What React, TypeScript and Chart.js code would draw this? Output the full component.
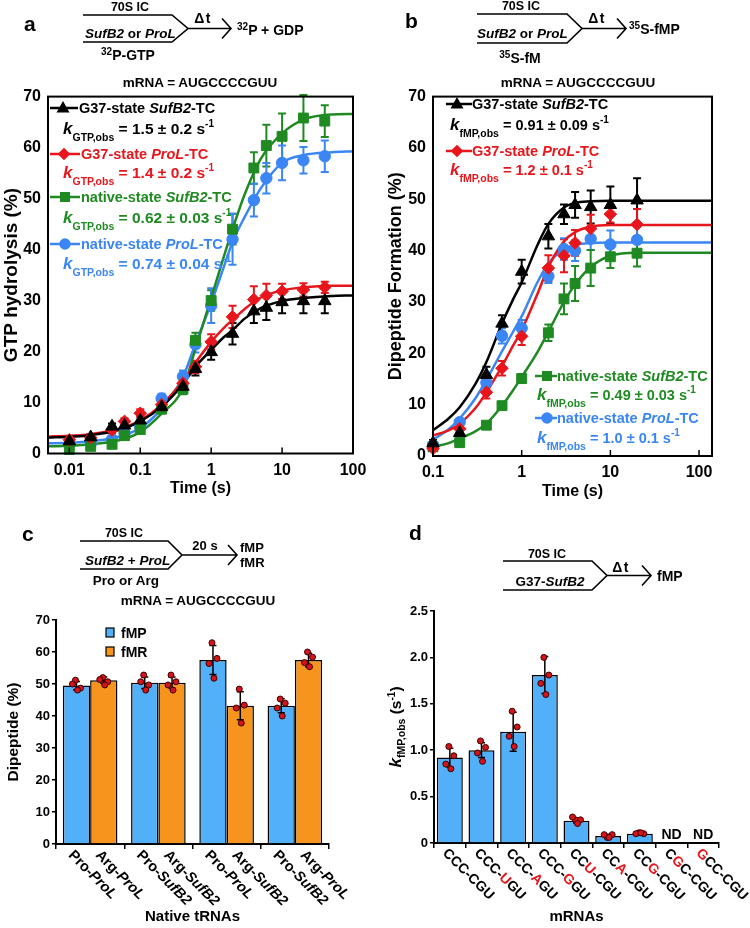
import React, { useEffect, useRef } from "react";
import { Chart, registerables } from "chart.js";
Chart.register(...registerables);

const FONT = "'Liberation Sans', Arial, Helvetica, sans-serif";
Chart.defaults.font.family = FONT;
Chart.defaults.color = "#000";

const BLACK = "#000000";
const RED = "#e8161c";
const GREEN = "#1f8a22";
const BLUE = "#3a86f4";
const BAR_BLUE = "#52b0f8";
const BAR_ORANGE = "#f7941d";
const DOT_RED = "#d4141a";

// ---------------- panel a : GTP hydrolysis ----------------
const aTimes = [0.01, 0.02, 0.04, 0.06, 0.1, 0.2, 0.4, 0.6, 1, 2, 4, 6, 10, 20, 40];
const aG37SufB2 = [2.4, 3.2, 5.3, 5.5, 6.5, 9.1, 13.1, 16.6, 19.9, 23.5, 27.9, 28.6, 29.7, 29.9, 29.9];
const aG37ProL = [2.7, 3.1, 4.6, 6.3, 7.9, 9.6, 13.8, 17.0, 21.9, 26.8, 30.2, 31.0, 31.8, 32.1, 32.6];
const aNatSufB2 = [0.8, 1.4, 1.8, 3.5, 4.7, 8.7, 12.6, 22.2, 30.0, 44.0, 56.0, 60.4, 62.2, 65.8, 65.2];
const aNatProL = [1.8, 1.9, 2.8, 4.0, 5.2, 10.8, 15.1, 21.4, 29.0, 42.0, 49.7, 54.0, 57.0, 57.5, 58.3];
const aErrG37SufB2 = [0.5, 0.6, 0.6, 0.8, 0.9, 1.0, 1.2, 1.3, 1.5, 2.1, 2.3, 2.4, 2.2, 2.4, 2.4];
const aErrG37ProL = [0.4, 0.5, 0.6, 0.6, 0.8, 0.9, 1.0, 1.2, 1.5, 2.2, 2.6, 2.3, 1.5, 1.3, 1.1];
const aErrNatSufB2 = [0.4, 0.4, 0.5, 0.6, 0.7, 0.8, 1.0, 1.5, 2.0, 3.0, 3.1, 4.1, 4.5, 4.5, 3.1];
const aErrNatProL = [0.4, 0.4, 0.5, 0.6, 0.7, 0.9, 1.2, 1.6, 3.4, 5.0, 3.2, 3.0, 3.4, 2.6, 3.1];
const aFitTimes = [0.005, 0.01, 0.02, 0.05, 0.1, 0.2, 0.4, 0.6, 1, 1.5, 2, 3, 5, 10, 20, 50, 100];
const aFitG37SufB2 = [3.1, 3.3, 3.6, 4.6, 6.3, 9.2, 13.6, 17.0, 20.3, 22.8, 24.2, 26.5, 28.5, 29.9, 30.5, 30.9, 31.0];
const aFitG37ProL = [3.3, 3.5, 3.8, 4.8, 6.5, 9.6, 14.2, 17.8, 21.9, 24.6, 26.2, 28.4, 30.6, 32.0, 32.6, 32.9, 32.9];
const aFitNatSufB2 = [1.4, 1.5, 1.8, 2.6, 4.2, 7.8, 12.8, 20.5, 30.5, 38.5, 44.0, 51.0, 57.8, 62.8, 65.5, 66.5, 66.6];
const aFitNatProL = [2.0, 2.1, 2.4, 3.3, 5.0, 8.8, 15.0, 21.5, 29.5, 36.5, 41.5, 46.5, 52.0, 57.0, 58.5, 59.1, 59.3];
const aTickValues = [0.01, 0.1, 1, 10, 100];

// ---------------- panel b : dipeptide formation ----------------
const bTimes = [0.1, 0.2, 0.4, 0.6, 1, 2, 3, 4, 6, 10, 20];
const bG37SufB2 = [2.5, 4.5, 15.8, 25.8, 35.9, 42.8, 47.1, 48.9, 48.5, 48.9, 49.8];
const bG37ProL = [1.5, 5.3, 12.4, 17.1, 23.3, 36.6, 39.0, 41.5, 44.3, 47.1, 45.1];
const bNatSufB2 = [1.8, 2.6, 6.0, 9.8, 15.1, 24.0, 30.6, 33.6, 36.6, 38.8, 39.5];
const bNatProL = [2.1, 6.6, 14.3, 23.4, 24.9, 35.0, 40.3, 40.0, 42.3, 41.2, 42.1];
const bErrG37SufB2 = [0.6, 0.8, 1.6, 1.6, 2.3, 2.4, 1.9, 2.5, 3.2, 3.6, 4.3];
const bErrG37ProL = [0.5, 0.8, 1.2, 1.4, 1.7, 2.5, 3.2, 2.5, 2.7, 1.6, 3.0];
const bErrNatSufB2 = [0.4, 0.5, 0.6, 0.7, 0.8, 1.6, 3.0, 3.4, 3.5, 2.2, 2.6];
const bErrNatProL = [0.5, 0.7, 1.0, 1.5, 1.6, 1.3, 2.1, 2.0, 2.2, 2.7, 2.6];
const bFitTimes = [0.1, 0.15, 0.2, 0.3, 0.4, 0.6, 0.8, 1, 1.5, 2, 3, 4, 6, 10, 20, 50, 140];
const bFitG37SufB2 = [5.0, 7.3, 9.5, 14.0, 18.3, 25.8, 30.5, 33.8, 41.0, 45.2, 48.4, 49.3, 49.6, 49.7, 49.7, 49.7, 49.7];
const bFitG37ProL = [4.0, 5.0, 6.3, 9.3, 12.4, 17.5, 21.5, 24.5, 31.5, 36.8, 41.8, 43.6, 44.7, 45.0, 45.0, 45.0, 45.0];
const bFitNatSufB2 = [1.8, 2.5, 3.4, 4.8, 6.3, 9.8, 12.8, 15.4, 20.2, 24.2, 30.0, 33.4, 36.8, 39.0, 39.6, 39.6, 39.6];
const bFitNatProL = [3.2, 5.2, 7.3, 11.2, 14.8, 20.4, 24.2, 27.2, 33.8, 37.5, 40.3, 41.1, 41.5, 41.6, 41.6, 41.6, 41.6];
const bTickValues = [0.1, 1, 10, 100];

// ---------------- panel c : competition ----------------
const cCategories = ["Pro-ProL / Arg-ProL", "Pro-SufB2 / Arg-SufB2", "Pro-ProL / Arg-SufB2", "Pro-SufB2 / Arg-ProL"];
const cFmpLabels = ["Pro-ProL", "Pro-SufB2", "Pro-ProL", "Pro-SufB2"];
const cFmrLabels = ["Arg-ProL", "Arg-SufB2", "Arg-SufB2", "Arg-ProL"];
const cFmp = [49.5, 50.4, 57.5, 43.2];
const cFmr = [51.2, 50.4, 43.2, 57.5];
const cFmpSd = [1.3, 1.8, 4.5, 2.2];
const cFmrSd = [1.0, 1.8, 4.4, 2.1];
const cFmpPts = [[51.2, 48.7, 50.0, 48.1], [52.8, 49.7, 50.7, 48.1], [62.9, 58.0, 56.4, 51.8], [45.3, 44.0, 42.5, 40.0]];
const cFmrPts = [[52.0, 50.7, 51.4, 49.7], [52.8, 50.7, 49.7, 48.1], [48.4, 43.4, 42.5, 37.8], [60.0, 58.4, 56.7, 55.4]];

// ---------------- panel d : mRNA variants ----------------
const dLabels = ["CCC-CGU", "CCC-UGU", "CCC-AGU", "CCC-GGU", "CCU-CGU", "CCA-CGU", "CCG-CGU", "CGC-CGU", "GCC-CGU"];
const dMutIndex = [-1, 4, 4, 4, 2, 2, 2, 1, 0];
const dValues = [0.92, 1.0, 1.2, 1.81, 0.24, 0.075, 0.1, null, null];
const dSd = [0.1, 0.08, 0.21, 0.2, 0.025, 0.02, 0.008, 0, 0];
const dPts = [[1.04, 0.94, 0.85, 0.8], [1.1, 1.03, 0.97, 0.88], [1.42, 1.25, 1.15, 1.04], [2.0, 1.81, 1.72, 1.6], [0.25, 0.25, 0.28, 0.21], [0.06, 0.09, 0.09, 0.06], [0.11, 0.1, 0.1, 0.11], [], []];

const JITTER = [-1, 4, -4, 1];

// ---------------- plugins ----------------
const errorBarPlugin = {
  id: "errorBars",
  beforeDatasetsDraw(chart: any) {
    const ctx = chart.ctx;
    const ys = chart.scales.y;
    chart.data.datasets.forEach((ds: any, i: number) => {
      if (!ds.errors) return;
      const meta = chart.getDatasetMeta(i);
      ctx.save();
      ctx.strokeStyle = ds.borderColor;
      ctx.lineWidth = 2;
      meta.data.forEach((pt: any, j: number) => {
        const v = ds.data[j].y;
        const e = ds.errors[j];
        const y1 = ys.getPixelForValue(v + e);
        const y2 = ys.getPixelForValue(v - e);
        ctx.beginPath();
        ctx.moveTo(pt.x, y1);
        ctx.lineTo(pt.x, y2);
        ctx.moveTo(pt.x - 4, y1);
        ctx.lineTo(pt.x + 4, y1);
        ctx.moveTo(pt.x - 4, y2);
        ctx.lineTo(pt.x + 4, y2);
        ctx.stroke();
      });
      ctx.restore();
    });
  },
};

const framePlugin = {
  id: "frame",
  afterDatasetsDraw(chart: any) {
    const { ctx, chartArea } = chart;
    const { left, top, right, bottom } = chartArea;
    ctx.save();
    ctx.strokeStyle = "#000";
    ctx.lineWidth = 2;
    ctx.strokeRect(left, top, right - left, bottom - top);
    const xs = chart.scales.x;
    ctx.lineWidth = 1.5;
    xs.ticks.forEach((t: any) => {
      const px = xs.getPixelForValue(t.value);
      ctx.beginPath();
      ctx.moveTo(px, bottom);
      ctx.lineTo(px, bottom - 6);
      ctx.stroke();
    });
    ctx.restore();
  },
};

const barDecorPlugin = {
  id: "barDecor",
  afterDatasetsDraw(chart: any) {
    const ctx = chart.ctx;
    const ys = chart.scales.y;
    chart.data.datasets.forEach((ds: any, i: number) => {
      const meta = chart.getDatasetMeta(i);
      meta.data.forEach((bar: any, j: number) => {
        const v = ds.data[j];
        if (v == null) return;
        const sd = ds.sd[j];
        const x = bar.x;
        const y1 = ys.getPixelForValue(v + sd);
        const y2 = ys.getPixelForValue(v - sd);
        ctx.save();
        ctx.strokeStyle = "#000";
        ctx.lineWidth = 1.5;
        ctx.beginPath();
        ctx.moveTo(x, y1);
        ctx.lineTo(x, y2);
        ctx.moveTo(x - 3.5, y1);
        ctx.lineTo(x + 3.5, y1);
        ctx.moveTo(x - 3.5, y2);
        ctx.lineTo(x + 3.5, y2);
        ctx.stroke();
        (ds.pts[j] || []).forEach((p: number, k: number) => {
          ctx.beginPath();
          ctx.arc(x + JITTER[k % JITTER.length], ys.getPixelForValue(p), 3, 0, Math.PI * 2);
          ctx.fillStyle = DOT_RED;
          ctx.fill();
          ctx.lineWidth = 1;
          ctx.strokeStyle = "#3a0000";
          ctx.stroke();
        });
        ctx.restore();
      });
    });
  },
};

// rotated (clockwise 45 deg) labels under each bar, drawn char by char
function drawRotLabel(ctx: any, text: string, x: number, y: number, styleFor: (i: number) => { italic: boolean; color: string }, size: number, weight: string) {
  ctx.save();
  ctx.translate(x, y);
  ctx.rotate(Math.PI / 4);
  ctx.textBaseline = "middle";
  ctx.textAlign = "left";
  let cx = 0;
  for (let i = 0; i < text.length; i++) {
    const st = styleFor(i);
    ctx.font = `${st.italic ? "italic " : ""}${weight} ${size}px ${FONT}`;
    ctx.fillStyle = st.color;
    ctx.fillText(text[i], cx, 0);
    cx += ctx.measureText(text[i]).width;
  }
  ctx.restore();
}

const cLabelPlugin = {
  id: "cLabels",
  afterDraw(chart: any) {
    const ctx = chart.ctx;
    const bottom = chart.chartArea.bottom;
    chart.data.datasets.forEach((ds: any, i: number) => {
      const meta = chart.getDatasetMeta(i);
      meta.data.forEach((bar: any, j: number) => {
        const txt: string = ds.tickText[j];
        const dash = txt.indexOf("-");
        drawRotLabel(ctx, txt, bar.x - 6, bottom + 9, (k) => ({ italic: k > dash, color: "#000" }), 14.5, "bold");
      });
    });
  },
};

const dLabelPlugin = {
  id: "dLabels",
  afterDraw(chart: any) {
    const ctx = chart.ctx;
    const bottom = chart.chartArea.bottom;
    const xs = chart.scales.x;
    dLabels.forEach((lab, j) => {
      const x = xs.getPixelForValue(j);
      drawRotLabel(ctx, lab, x - 5, bottom + 8, (k) => ({ italic: false, color: k === dMutIndex[j] ? RED : "#000" }), 14, "bold");
      if (dValues[j] == null) {
        ctx.save();
        ctx.font = `bold 14px ${FONT}`;
        ctx.textAlign = "center";
        ctx.textBaseline = "alphabetic";
        ctx.fillStyle = "#000";
        ctx.fillText("ND", x, bottom - 4);
        ctx.restore();
      }
    });
  },
};

// ---------------- helpers ----------------
const xy = (xs: number[], ys: number[]) => xs.map((x, i) => ({ x, y: ys[i] }));

function pointSet(label: string, xs: number[], ys: number[], errs: number[], color: string, style: string, radius: number) {
  return {
    label,
    data: xy(xs, ys),
    showLine: false,
    pointStyle: style,
    pointRadius: radius,
    backgroundColor: color,
    borderColor: color,
    borderWidth: 1,
    errors: errs,
    clip: false,
  };
}
function curveSet(label: string, xs: number[], ys: number[], color: string) {
  return {
    label,
    data: xy(xs, ys),
    showLine: true,
    pointRadius: 0,
    borderColor: color,
    backgroundColor: color,
    borderWidth: 2.5,
    cubicInterpolationMode: "monotone",
    fill: false,
  };
}

function kineticsConfig(opts: any) {
  return {
    type: "scatter",
    data: { datasets: opts.datasets },
    options: {
      responsive: false,
      animation: false,
      devicePixelRatio: 1,
      layout: { padding: opts.padding },
      plugins: { legend: { display: false }, tooltip: { enabled: false } },
      scales: {
        x: {
          type: "logarithmic",
          min: opts.xmin,
          max: opts.xmax,
          afterBuildTicks: (s: any) => {
            s.ticks = opts.ticks.map((v: number) => ({ value: v }));
          },
          afterFit: (s: any) => {
            s.height = 45;
          },
          ticks: { font: { size: 16, weight: "bold" }, padding: 7, maxRotation: 0, autoSkip: false, callback: (v: any) => String(v) },
          grid: { display: false, drawTicks: false },
          border: { display: false },
          title: { display: true, text: "Time (s)", font: { size: 16, weight: "bold" }, padding: 0 },
        },
        y: {
          min: 0,
          max: 70,
          ticks: { stepSize: 10, font: { size: 16, weight: "bold" }, padding: 7 },
          afterFit: (s: any) => {
            s.width = 48;
          },
          grid: { display: false, drawTicks: false },
          border: { display: false },
          title: { display: true, text: opts.ytitle, font: { size: opts.ytitleSize, weight: "bold" }, padding: 0 },
        },
      },
    },
    plugins: [errorBarPlugin, framePlugin],
  };
}

function ChartCanvas({ left, top, width, height, make }: { left: number; top: number; width: number; height: number; make: () => any }) {
  const ref = useRef<HTMLCanvasElement>(null);
  useEffect(() => {
    const chart = new Chart(ref.current as HTMLCanvasElement, make());
    return () => chart.destroy();
  }, []);
  return <canvas ref={ref} width={width} height={height} style={{ position: "absolute", left, top, width, height }} />;
}

const makeA = () =>
  kineticsConfig({
    datasets: [
      pointSet("G37-state SufB2-TC", aTimes, aG37SufB2, aErrG37SufB2, BLACK, "triangle", 7.2),
      pointSet("G37-state ProL-TC", aTimes, aG37ProL, aErrG37ProL, RED, "rectRot", 6.3),
      pointSet("native-state SufB2-TC", aTimes, aNatSufB2, aErrNatSufB2, GREEN, "rect", 7),
      pointSet("native-state ProL-TC", aTimes, aNatProL, aErrNatProL, BLUE, "circle", 5.7),
      curveSet("fit G37 SufB2", aFitTimes, aFitG37SufB2, BLACK),
      curveSet("fit G37 ProL", aFitTimes, aFitG37ProL, RED),
      curveSet("fit native SufB2", aFitTimes, aFitNatSufB2, GREEN),
      curveSet("fit native ProL", aFitTimes, aFitNatProL, BLUE),
    ],
    padding: { left: 0, top: 15, right: 22, bottom: 11.5 },
    xmin: 0.005,
    xmax: 100,
    ticks: aTickValues,
    ytitle: "GTP hydrolysis (%)",
    ytitleSize: 19,
  });

const makeB = () =>
  kineticsConfig({
    datasets: [
      pointSet("G37-state SufB2-TC", bTimes, bG37SufB2, bErrG37SufB2, BLACK, "triangle", 7.2),
      pointSet("G37-state ProL-TC", bTimes, bG37ProL, bErrG37ProL, RED, "rectRot", 6.3),
      pointSet("native-state ProL-TC", bTimes, bNatProL, bErrNatProL, BLUE, "circle", 5.7),
      pointSet("native-state SufB2-TC", bTimes, bNatSufB2, bErrNatSufB2, GREEN, "rect", 7),
      curveSet("fit G37 SufB2", bFitTimes, bFitG37SufB2, BLACK),
      curveSet("fit G37 ProL", bFitTimes, bFitG37ProL, RED),
      curveSet("fit native ProL", bFitTimes, bFitNatProL, BLUE),
      curveSet("fit native SufB2", bFitTimes, bFitNatSufB2, GREEN),
    ],
    padding: { left: 0, top: 12, right: 38, bottom: 9 },
    xmin: 0.1,
    xmax: 140,
    ticks: bTickValues,
    ytitle: "Dipeptide Formation (%)",
    ytitleSize: 18,
  });

const makeC = () => ({
  type: "bar",
  data: {
    labels: cCategories,
    datasets: [
      { label: "fMP", data: cFmp, backgroundColor: BAR_BLUE, borderColor: "#000", borderWidth: 1.5, sd: cFmpSd, pts: cFmpPts, tickText: cFmpLabels },
      { label: "fMR", data: cFmr, backgroundColor: BAR_ORANGE, borderColor: "#000", borderWidth: 1.5, sd: cFmrSd, pts: cFmrPts, tickText: cFmrLabels },
    ],
  },
  options: {
    responsive: false,
    animation: false,
    devicePixelRatio: 1,
    layout: { padding: { left: 0, top: 10, right: 46, bottom: 2 } },
    datasets: { bar: { categoryPercentage: 0.8, barPercentage: 1 } },
    plugins: { legend: { display: false }, tooltip: { enabled: false } },
    scales: {
      x: {
        ticks: { display: false },
        afterFit: (s: any) => {
          s.height = 82;
        },
        grid: { drawOnChartArea: false, drawTicks: true, tickLength: 5, color: "#000", lineWidth: 1.5, offset: true },
        border: { display: true, color: "#000", width: 2 },
        title: { display: true, text: "Native tRNAs", font: { size: 15, weight: "bold" }, padding: 0 },
      },
      y: {
        min: 0,
        max: 70,
        ticks: { stepSize: 10, font: { size: 13, weight: "bold" }, padding: 2 },
        afterFit: (s: any) => {
          s.width = 56;
        },
        grid: { drawOnChartArea: false, tickLength: 4, color: "#000", lineWidth: 1.5 },
        border: { display: true, color: "#000", width: 2 },
        title: { display: true, text: "Dipeptide (%)", font: { size: 15.5, weight: "bold" }, padding: { top: 4, bottom: 0 } },
      },
    },
  },
  plugins: [barDecorPlugin, cLabelPlugin],
});

const makeD = () => ({
  type: "bar",
  data: {
    labels: dLabels,
    datasets: [{ label: "kfMP,obs", data: dValues, backgroundColor: BAR_BLUE, borderColor: "#000", borderWidth: 1.5, sd: dSd, pts: dPts }],
  },
  options: {
    responsive: false,
    animation: false,
    devicePixelRatio: 1,
    layout: { padding: { left: 0, top: 11, right: 31, bottom: 2 } },
    datasets: { bar: { categoryPercentage: 0.82, barPercentage: 1 } },
    plugins: { legend: { display: false }, tooltip: { enabled: false } },
    scales: {
      x: {
        ticks: { display: false },
        afterFit: (s: any) => {
          s.height = 83;
        },
        grid: { drawOnChartArea: false, drawTicks: true, tickLength: 5, color: "#000", lineWidth: 1.5, offset: true },
        border: { display: true, color: "#000", width: 2 },
        title: { display: true, text: "mRNAs", font: { size: 15, weight: "bold" }, padding: 0 },
      },
      y: {
        min: 0,
        max: 2.5,
        ticks: { stepSize: 0.5, font: { size: 13, weight: "bold" }, padding: 2 },
        afterFit: (s: any) => {
          s.width = 54;
        },
        grid: { drawOnChartArea: false, tickLength: 4, color: "#000", lineWidth: 1.5 },
        border: { display: true, color: "#000", width: 2 },
      },
    },
  },
  plugins: [barDecorPlugin, dLabelPlugin],
});

// ---------------- SVG annotations ----------------
function Marker({ kind, x, y, color }: { kind: string; x: number; y: number; color: string }) {
  if (kind === "triangle") return <polygon points={`${x},${y - 7} ${x + 6.5},${y + 4.5} ${x - 6.5},${y + 4.5}`} fill={color} />;
  if (kind === "diamond") return <polygon points={`${x},${y - 6.3} ${x + 6.3},${y} ${x},${y + 6.3} ${x - 6.3},${y}`} fill={color} />;
  if (kind === "square") return <rect x={x - 5} y={y - 5} width={10} height={10} fill={color} />;
  return <circle cx={x} cy={y} r={5.7} fill={color} />;
}

function LegendRow({ x1, x2, mx, tx, y, color, kind, pre, ital, post, size }: any) {
  return (
    <g>
      <line x1={x1} y1={y} x2={x2} y2={y} stroke={color} strokeWidth={2.5} />
      <Marker kind={kind} x={mx} y={y} color={color} />
      <text x={tx} y={y + 5} fill={color} fontSize={size} fontWeight="bold">
        {pre}
        <tspan fontStyle="italic">{ital}</tspan>
        {post}
      </text>
    </g>
  );
}

function KRow({ x, y, color, sub, val, size }: any) {
  return (
    <text x={x} y={y} fill={color} fontSize={size} fontWeight="bold">
      <tspan fontStyle="italic" fontSize={17}>k</tspan>
      <tspan fontSize={10.5} dy={7}>{sub}</tspan>
      <tspan dy={-7}>{` = ${val} s`}</tspan>
      <tspan fontSize={10} dy={-7}>-1</tspan>
    </text>
  );
}

function Scheme({ x0, x1, xt, y0, y1, xa }: any) {
  const ym = (y0 + y1) / 2;
  return (
    <path
      d={`M${x0},${y0} L${x1},${y0} L${xt},${ym} L${x1},${y1} L${x0},${y1} M${xt},${ym} L${xa},${ym} M${xa - 9},${ym - 10} L${xa},${ym} L${xa - 9},${ym + 10}`}
      fill="none"
      stroke="#000"
      strokeWidth={1.6}
    />
  );
}

function Overlay() {
  return (
    <svg width={750} height={928} style={{ position: "absolute", left: 0, top: 0, pointerEvents: "none" }} fontFamily={FONT} fontWeight="bold">
      {/* panel letters */}
      <text x={24} y={31} fontSize={21}>a</text>
      <text x={405} y={28} fontSize={21}>b</text>
      <text x={22} y={541} fontSize={21}>c</text>
      <text x={409} y={540} fontSize={21}>d</text>

      {/* scheme a */}
      <Scheme x0={83} x1={172} xt={188} y0={15} y1={42} xa={231} />
      <text x={130} y={11} fontSize={12.5} textAnchor="middle">70S IC</text>
      <text x={85} y={38} fontSize={13.5}>
        <tspan fontStyle="italic">SufB2</tspan> or <tspan fontStyle="italic">ProL</tspan>
      </text>
      <text x={203} y={23} fontSize={14} textAnchor="middle" letterSpacing={1.5}>Δt</text>
      <text x={237} y={35} fontSize={14}>
        <tspan fontSize={10} dy={-5}>32</tspan>
        <tspan dy={5}>P + GDP</tspan>
      </text>
      <text x={128} y={60} fontSize={14} textAnchor="middle">
        <tspan fontSize={10} dy={-5}>32</tspan>
        <tspan dy={5}>P-GTP</tspan>
      </text>
      <text x={200} y={87} fontSize={13.5} textAnchor="middle">mRNA = AUGCCCCGUU</text>

      {/* scheme b */}
      <Scheme x0={477} x1={567} xt={582} y0={14} y1={43} xa={626} />
      <text x={521} y={10} fontSize={12.5} textAnchor="middle">70S IC</text>
      <text x={477} y={38} fontSize={13.5}>
        <tspan fontStyle="italic">SufB2</tspan> or <tspan fontStyle="italic">ProL</tspan>
      </text>
      <text x={597} y={23} fontSize={14} textAnchor="middle" letterSpacing={1.5}>Δt</text>
      <text x={629} y={34} fontSize={14}>
        <tspan fontSize={10} dy={-5}>35</tspan>
        <tspan dy={5}>S-fMP</tspan>
      </text>
      <text x={520} y={63} fontSize={14} textAnchor="middle">
        <tspan fontSize={10} dy={-5}>35</tspan>
        <tspan dy={5}>S-fM</tspan>
      </text>
      <text x={578} y={87} fontSize={13.5} textAnchor="middle">mRNA = AUGCCCCGUU</text>

      {/* scheme c */}
      <Scheme x0={80} x1={168} xt={182} y0={541} y1={569} xa={237} />
      <text x={124} y={537} fontSize={12.5} textAnchor="middle">70S IC</text>
      <text x={85} y={565} fontSize={13.5}>
        <tspan fontStyle="italic">SufB2</tspan> + <tspan fontStyle="italic">ProL</tspan>
      </text>
      <text x={205} y={550} fontSize={13} textAnchor="middle">20 s</text>
      <text x={240} y={552} fontSize={13}>fMP</text>
      <text x={240} y={567} fontSize={13}>fMR</text>
      <text x={126} y={585} fontSize={13.5} textAnchor="middle">Pro or Arg</text>
      <text x={198} y={605} fontSize={13.5} textAnchor="middle">mRNA = AUGCCCCGUU</text>

      {/* scheme d */}
      <Scheme x0={503} x1={592} xt={607} y0={561} y1={590} xa={651} />
      <text x={547} y={558} fontSize={12.5} textAnchor="middle">70S IC</text>
      <text x={550} y={586} fontSize={13.5} textAnchor="middle">
        G37-<tspan fontStyle="italic">SufB2</tspan>
      </text>
      <text x={621} y={572} fontSize={14} textAnchor="middle" letterSpacing={1.5}>Δt</text>
      <text x={657} y={581} fontSize={14}>fMP</text>

      {/* legend a */}
      <LegendRow x1={50} x2={78} mx={63} tx={79} y={108} color={BLACK} kind="triangle" pre="G37-state " ital="SufB2" post="-TC" size={14.5} />
      <KRow x={63} y={134} color={BLACK} sub="GTP,obs" val="1.5 ± 0.2" size={15.5} />
      <LegendRow x1={50} x2={80} mx={64} tx={81} y={154} color={RED} kind="diamond" pre="G37-state " ital="ProL" post="-TC" size={14.5} />
      <KRow x={63} y={178} color={RED} sub="GTP,obs" val="1.4 ± 0.2" size={15.5} />
      <LegendRow x1={50} x2={80} mx={65} tx={81} y={197} color={GREEN} kind="square" pre="native-state " ital="SufB2" post="-TC" size={14.5} />
      <KRow x={63} y={223} color={GREEN} sub="GTP,obs" val="0.62 ± 0.03" size={15.5} />
      <LegendRow x1={50} x2={80} mx={65} tx={81} y={244} color={BLUE} kind="circle" pre="native-state " ital="ProL" post="-TC" size={14.5} />
      <KRow x={63} y={269} color={BLUE} sub="GTP,obs" val="0.74 ± 0.04" size={15.5} />

      {/* legend b */}
      <LegendRow x1={446} x2={472} mx={457} tx={472} y={104} color={BLACK} kind="triangle" pre="G37-state " ital="SufB2" post="-TC" size={14.5} />
      <KRow x={450} y={130} color={BLACK} sub="fMP,obs" val="0.91 ± 0.09" size={14.5} />
      <LegendRow x1={446} x2={472} mx={457} tx={472} y={151} color={RED} kind="diamond" pre="G37-state " ital="ProL" post="-TC" size={14.5} />
      <KRow x={450} y={175} color={RED} sub="fMP,obs" val="1.2 ± 0.1" size={14.5} />
      <LegendRow x1={535} x2={557} mx={547} tx={557} y={376} color={GREEN} kind="square" pre="native-state " ital="SufB2" post="-TC" size={14.5} />
      <KRow x={537} y={400} color={GREEN} sub="fMP,obs" val="0.49 ± 0.03" size={14.5} />
      <LegendRow x1={535} x2={557} mx={547} tx={557} y={418} color={BLUE} kind="circle" pre="native-state " ital="ProL" post="-TC" size={14.5} />
      <KRow x={537} y={443} color={BLUE} sub="fMP,obs" val="1.0 ± 0.1" size={14.5} />

      {/* legend c */}
      <rect x={106} y={628} width={8} height={9} fill={BAR_BLUE} stroke="#000" strokeWidth={1.2} />
      <text x={121} y={638} fontSize={14}>fMP</text>
      <rect x={106} y={647} width={8} height={9} fill={BAR_ORANGE} stroke="#000" strokeWidth={1.2} />
      <text x={121} y={657} fontSize={14}>fMR</text>

      {/* y title d */}
      <text x={0} y={0} fontSize={15.5} textAnchor="middle" transform="translate(401,727) rotate(-90)">
        <tspan fontStyle="italic" fontSize={17}>k</tspan>
        <tspan fontSize={10.5} dy={4}>fMP,obs</tspan>
        <tspan dy={-4}> (s</tspan>
        <tspan fontSize={10} dy={-6}>-1</tspan>
        <tspan dy={6}>)</tspan>
      </text>
    </svg>
  );
}

export default function App() {
  return (
    <div style={{ position: "absolute", left: 0, top: 0, width: 750, height: 928, background: "#fff", fontFamily: FONT }}>
      <ChartCanvas left={0} top={80} width={375} height={430} make={makeA} />
      <ChartCanvas left={385} top={80} width={365} height={430} make={makeB} />
      <ChartCanvas left={0} top={610} width={375} height={318} make={makeC} />
      <ChartCanvas left={380} top={600} width={370} height={328} make={makeD} />
      <Overlay />
    </div>
  );
}
